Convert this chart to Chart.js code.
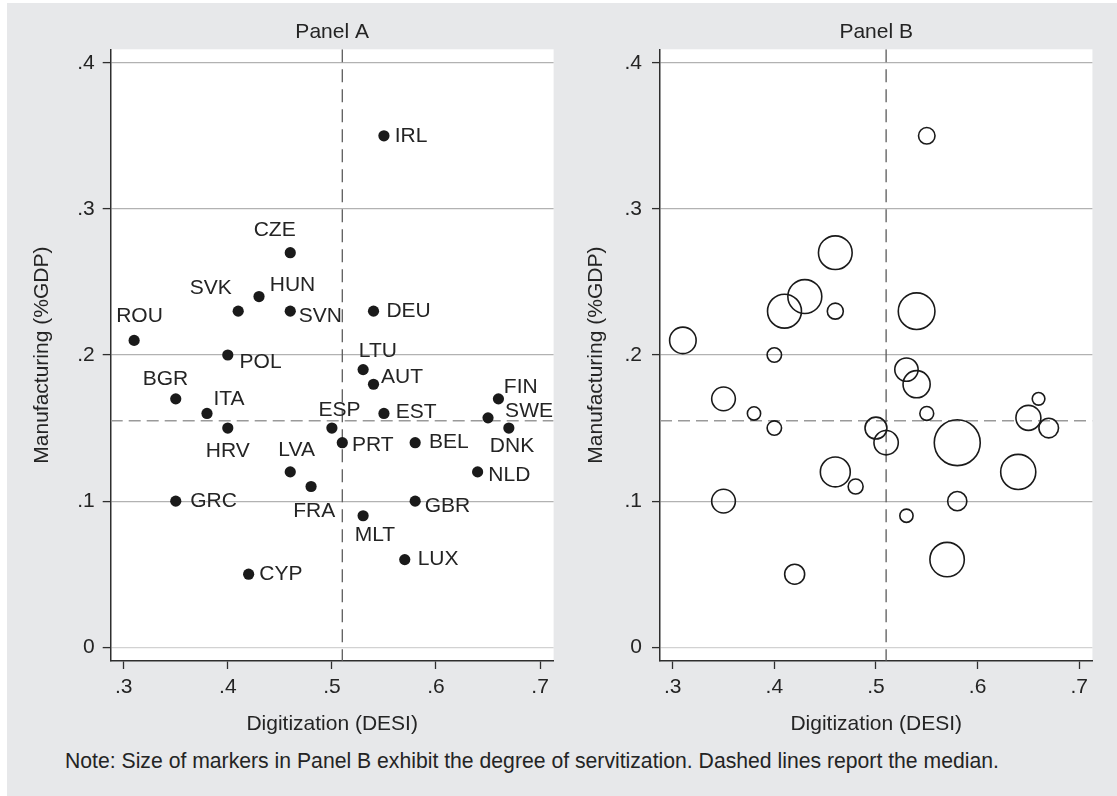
<!DOCTYPE html>
<html><head><meta charset="utf-8">
<script src="https://cdn.jsdelivr.net/npm/chart.js@4.4.1/dist/chart.umd.min.js"></script>
<style>
html,body{margin:0;padding:0;background:#fff;width:1117px;height:796px;overflow:hidden;}
#page{position:absolute;left:7px;top:3px;width:1110px;height:793px;background:#e7e8ea;}
canvas{position:absolute;top:0;}
#cA{left:0px;} #cB{left:560px;}
#note{position:absolute;left:65px;top:749px;font-family:'Liberation Sans',Arial,sans-serif;font-size:21.2px;color:#242424;white-space:nowrap;line-height:24px;}
</style></head><body>
<div id="page"></div>
<canvas id="cA" width="560" height="745"></canvas>
<canvas id="cB" width="557" height="745"></canvas>
<div id="note">Note: Size of markers in Panel B exhibit the degree of servitization. Dashed lines report the median.</div>
<script>
// ---- data ----
const countries = ['ROU','BGR','GRC','ITA','HRV','POL','SVK','CYP','HUN','CZE','SVN','LVA','FRA','ESP','PRT','LTU','MLT','DEU','AUT','IRL','EST','LUX','BEL','GBR','NLD','SWE','FIN','DNK'];
const digitization = [0.31,0.35,0.35,0.38,0.40,0.40,0.41,0.42,0.43,0.46,0.46,0.46,0.48,0.50,0.51,0.53,0.53,0.54,0.54,0.55,0.55,0.57,0.58,0.58,0.64,0.65,0.66,0.67];
const manufacturing = [0.21,0.17,0.10,0.16,0.15,0.20,0.23,0.05,0.24,0.27,0.23,0.12,0.11,0.15,0.14,0.19,0.09,0.23,0.18,0.35,0.16,0.06,0.14,0.10,0.12,0.157,0.17,0.15];
const servitization = [0.44,0.35,0.35,0.11,0.13,0.13,0.72,0.25,0.72,0.71,0.16,0.56,0.14,0.30,0.37,0.34,0.11,0.84,0.46,0.17,0.12,0.74,1.32,0.23,0.77,0.39,0.10,0.24];
const xTicks = [0.3,0.4,0.5,0.6,0.7];
const yTicks = [0,0.1,0.2,0.3,0.4];
const medianDigitization = 0.51;
const medianManufacturing = 0.155;
const panelTitles = ['Panel A','Panel B'];
const xTitle = 'Digitization (DESI)';
const yTitle = 'Manufacturing (%GDP)';

// ---- styling ----
const FONT = "'Liberation Sans', Arial, Helvetica, sans-serif";
const FS = 21;
const TXT = '#242424';
const AX = '#2e2e2e';
const BUBBLE_K = 20;
// label placement: [align, dx, dy] relative to marker centre
const labelPlace = {
  IRL:['left',10.7,0], CZE:['right',5.4,-23], HUN:['left',10.7,-11], SVK:['right',-6.4,-23],
  SVN:['left',8.6,5.5], DEU:['left',12.9,0], ROU:['center',5.4,-24], POL:['left',11.8,7],
  LTU:['center',14.7,-18], AUT:['left',7.5,-7], FIN:['left',5.4,-12], BGR:['center',-10.3,-20],
  ITA:['left',6.4,-14], HRV:['center',0,23], ESP:['center',7.5,-18], PRT:['left',9.6,3],
  EST:['left',11.8,-1], BEL:['left',13.9,0], SWE:['left',17.1,-7], DNK:['center',3.2,18],
  NLD:['left',10.7,3], LVA:['center',6.4,-22], FRA:['center',3.2,25], GRC:['left',14.4,0],
  GBR:['left',9.6,5], MLT:['center',11.8,19], LUX:['left',12.9,0], CYP:['left',10.7,0]
};

const fmt = v => (v === 0 ? '0' : Number(v).toFixed(1).replace(/^0/, ''));

const bgPlugin = {
  id:'bg',
  beforeDraw(chart){
    const {ctx, chartArea:a} = chart;
    ctx.save(); ctx.fillStyle = '#ffffff';
    ctx.fillRect(a.left, a.top, a.right-a.left, a.bottom-a.top);
    ctx.restore();
  }
};
const medianPlugin = {
  id:'median',
  beforeDatasetsDraw(chart){
    const {ctx, chartArea:a, scales:{x,y}} = chart;
    ctx.save();
    ctx.beginPath(); ctx.rect(a.left, a.top, a.right-a.left, a.bottom-a.top); ctx.clip();
    ctx.lineWidth = 1.3;
    const yp = y.getPixelForValue(medianManufacturing);
    ctx.setLineDash([12,6]);
    ctx.strokeStyle = '#9a9a9a';
    ctx.beginPath(); ctx.moveTo(a.left, yp); ctx.lineTo(a.right, yp); ctx.stroke();
    const xp = x.getPixelForValue(medianDigitization);
    ctx.setLineDash([13,7]);
    ctx.strokeStyle = '#5a5a5a';
    ctx.beginPath(); ctx.moveTo(xp, a.top); ctx.lineTo(xp, a.bottom); ctx.stroke();
    ctx.restore();
  }
};
const labelPlugin = {
  id:'labels',
  afterDatasetsDraw(chart){
    const {ctx} = chart;
    const meta = chart.getDatasetMeta(0);
    ctx.save();
    ctx.font = FS + 'px ' + FONT;
    ctx.fillStyle = TXT;
    ctx.textBaseline = 'middle';
    meta.data.forEach((el, i) => {
      const code = countries[i];
      const p = labelPlace[code] || ['left',10,0];
      ctx.textAlign = p[0];
      ctx.fillText(code, el.x + p[1], el.y + p[2]);
    });
    ctx.restore();
  }
};

function makePanel(id, idx, geom){
  const isB = idx === 1;
  const pts = digitization.map((x,i)=>({x:x, y:manufacturing[i]}));
  const font = {family:FONT, size:FS};
  return new Chart(document.getElementById(id), {
    type:'scatter',
    data:{datasets:[{
      data:pts,
      pointRadius: isB ? (c => BUBBLE_K*Math.sqrt(servitization[c.dataIndex])) : 5.6,
      pointHoverRadius: isB ? (c => BUBBLE_K*Math.sqrt(servitization[c.dataIndex])) : 5.6,
      pointBackgroundColor: isB ? 'rgba(0,0,0,0)' : '#1a1a1a',
      pointBorderColor: '#1a1a1a',
      pointBorderWidth: isB ? 1.6 : 0,
      clip: false
    }]},
    options:{
      responsive:false, animation:false, devicePixelRatio:1, events:[],
      layout:{padding:{left:0,right:geom.padRight,top:0,bottom:0}},
      plugins:{
        legend:{display:false}, tooltip:{enabled:false},
        title:{display:true, text:panelTitles[idx], fullSize:false, color:TXT,
               font:{family:FONT,size:FS,weight:'normal'}, padding:{top:19.9,bottom:4.2}}
      },
      scales:{
        x:{type:'linear', min:0.2875, max:0.713,
           afterBuildTicks: s => { s.ticks = xTicks.map(v=>({value:v})); },
           afterFit: s => { s.height = 84; },
           grid:{drawOnChartArea:false, drawTicks:true, tickLength:8, tickColor:AX, tickWidth:1.3},
           border:{display:true, color:AX, width:1.5},
           ticks:{font:font, color:TXT, padding:6, maxRotation:0, autoSkip:false, callback:fmt},
           title:{display:true, text:xTitle, color:TXT, font:font, padding:{top:0,bottom:8.4}}
        },
        y:{type:'linear', min:-0.0094, max:0.4092,
           afterBuildTicks: s => { s.ticks = yTicks.map(v=>({value:v})); },
           afterFit: s => { s.width = geom.yWidth; },
           grid:{drawOnChartArea:true, drawTicks:true, tickLength:8, tickColor:AX, tickWidth:1.3,
                 lineWidth:1.2, color: c => (c.tick && c.tick.value === 0 ? '#d2d2d2' : '#b2b2b2')},
           border:{display:true, color:AX, width:1.5},
           ticks:{font:font, color:TXT, padding:geom.yPad, autoSkip:false, callback:fmt},
           title:{display:true, text:yTitle, color:TXT, font:font, padding:{top:geom.yTitlePad,bottom:0}}
        }
      }
    },
    plugins: isB ? [bgPlugin, medianPlugin] : [bgPlugin, medianPlugin, labelPlugin]
  });
}

makePanel('cA', 0, {padRight:6.4, yWidth:110.7, yPad:8, yTitlePad:29.9});
makePanel('cB', 1, {padRight:13, yWidth:100, yPad:10, yTitlePad:23.4});
</script>
</body></html>
